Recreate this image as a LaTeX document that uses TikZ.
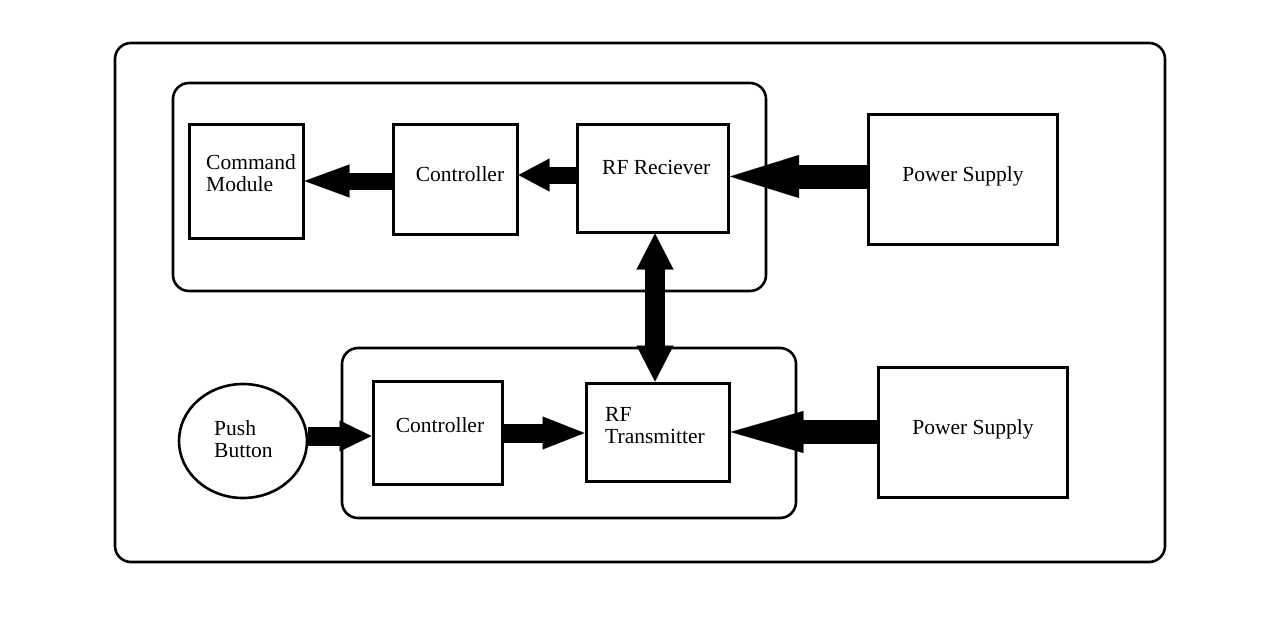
\documentclass[tikz,border=0pt]{standalone}
\usepackage{fontspec}
\setmainfont{Liberation Serif}
\usetikzlibrary{arrows.meta,shapes.geometric}
\begin{document}
\begin{tikzpicture}[x=1pt,y=-1pt,
  box/.style={draw, line width=3pt, rectangle, inner sep=0pt},
  oval/.style={draw, line width=2.6pt, ellipse, inner sep=0pt},
  grp/.style={draw, line width=2.6pt, rounded corners=16pt},
  lbl/.style={font=\fontsize{21.5}{22}\selectfont, inner sep=0pt, align=left},
  % thick block arrow: shaft width, head length, head width
  blk/.style n args={3}{line width=#1,
    -{Triangle[length=#2 0 0, width=#3 0 0, line width=0.1pt 0 0]}},
  dblk/.style n args={3}{line width=#1,
    {Triangle[length=#2 0 0, width=#3 0 0, line width=0.1pt 0 0]}-{Triangle[length=#2 0 0, width=#3 0 0, line width=0.1pt 0 0]}},
]
\useasboundingbox (0,0) rectangle (1280,642);

% enclosing frames
\draw[grp] (115,43) rectangle (1165,562);
\draw[grp] (173,83) rectangle (766,291);
\draw[grp] (342,348) rectangle (796,518);

% receiver side
\node[box, minimum width=114pt, minimum height=114pt] (cmd) at (246,181) {};
\node[box, minimum width=124pt, minimum height=110pt] (ctla) at (455,179) {};
\node[box, minimum width=151pt, minimum height=108pt] (rx) at (653,178) {};
\node[box, minimum width=189pt, minimum height=130pt] (pwa) at (962.5,179) {};

% transmitter side
\node[oval, minimum width=128pt, minimum height=114pt] (push) at (243,441) {};
\node[box, minimum width=129pt, minimum height=103pt] (ctlb) at (437.5,432.5) {};
\node[box, minimum width=143pt, minimum height=98pt] (tx) at (657.5,432) {};
\node[box, minimum width=189pt, minimum height=130pt] (pwb) at (972.5,432) {};

% labels (two-line labels are anchored on their last baseline)
\node[lbl, anchor=base west] (tcmd) at (206,191) {Command\\Module};
\node[lbl, anchor=base] (tctla) at (460,181) {Controller};
\node[lbl, anchor=base west] (trx) at (602,174) {RF Reciever};
\node[lbl, anchor=base] (tpwa) at (963,181) {Power Supply};
\node[lbl, anchor=base west] (tpush) at (214,457) {Push\\Button};
\node[lbl, anchor=base] (tctlb) at (440,432) {Controller};
\node[lbl, anchor=base west] (ttx) at (605,443) {RF\\Transmitter};
\node[lbl, anchor=base] (tpwb) at (973,434) {Power Supply};

% arrow levels
\coordinate (ra) at (0,181);
\coordinate (rb) at (0,175);
\coordinate (rc) at (0,176.5);
\coordinate (rd) at (0,436);
\coordinate (re) at (0,433);
\coordinate (rf) at (0,432);
\coordinate (cv) at (655,0);

% connectors
\draw[blk={17pt}{45pt}{33pt}] (ctla.west |- ra) -- (cmd.east |- ra);
\draw[blk={17pt}{31pt}{33pt}] (rx.west |- rb) -- (ctla.east |- rb);
\draw[blk={24pt}{69pt}{43pt}] (pwa.west |- rc) -- (rx.east |- rc);
\draw[dblk={20pt}{36pt}{37pt}] (cv |- rx.south) -- (cv |- tx.north);
\draw[blk={19pt}{32pt}{31pt}] (push.east |- rd) -- (ctlb.west |- rd);
\draw[blk={19pt}{42pt}{33pt}] (ctlb.east |- re) -- (tx.west |- re);
\draw[blk={24pt}{73pt}{42pt}] (pwb.west |- rf) -- (tx.east |- rf);
\end{tikzpicture}
\end{document}
